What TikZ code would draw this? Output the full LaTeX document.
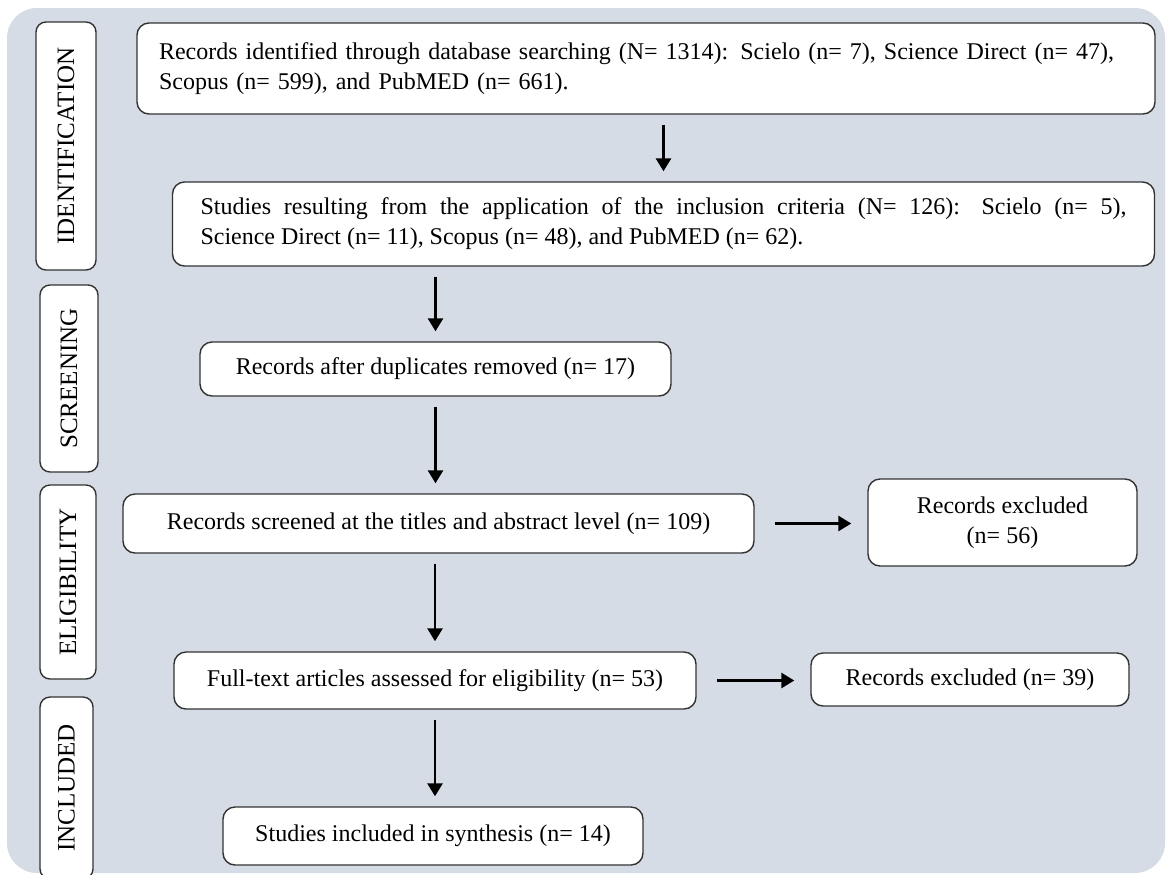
\documentclass[tikz,border=0pt]{standalone}
\usepackage{fontspec}
\setmainfont{Liberation Serif}
\usetikzlibrary{arrows.meta}
\definecolor{panel}{HTML}{D6DCE5}

\begin{document}
\begin{tikzpicture}[x=0.5pt,y=-0.5pt,>={Triangle[length=6.5pt,width=7.5pt]},
	box/.style={draw=black!80, line width=0.7pt, fill=white, rounded corners=6pt, inner sep=0pt, align=center, font=\fontsize{12}{15}\selectfont},
	phase/.style={draw=black!80, line width=0.7pt, fill=white, rounded corners=5pt, inner sep=0pt, rotate=90, font=\fontsize{12.5}{15}\selectfont},
	pile/.style={->, line width=1.4pt, shorten <=5pt, shorten >=5pt},
	side/.style={->, line width=1.4pt, shorten <=10pt, shorten >=8pt}]

	\clip (0,0) rectangle (1168,874);
	\fill[white] (0,0) rectangle (1168,874);
	\fill[panel, rounded corners=15pt] (7,8) rectangle (1165,873);

	% Phases
	\draw (66,146) node[phase, minimum width=124pt, minimum height=30pt] (ident) {IDENTIFICATION};
	\draw (69,378.5) node[phase, minimum width=93.5pt, minimum height=29pt] (screen) {SCREENING};
	\draw (68,582) node[phase, minimum width=97pt, minimum height=28pt] (elig) {ELIGIBILITY};
	\draw (66.5,788) node[phase, minimum width=91pt, minimum height=26.5pt] (incl) {INCLUDED};

	% Boxes
	\draw (646,68.5) node[box, align=left, text width=487pt, inner xsep=11pt, minimum height=45.5pt] (rec)
		{Records identified through database searching (N= 1314): Scielo (n= 7), Science Direct (n= 47),\\
		 Scopus (n= 599), and PubMED (n= 661).};
	\draw (663.5,224) node[box, align=justify, text width=463pt, inner xsep=14pt, minimum height=42pt] (stud)
		{Studies resulting from the application of the inclusion criteria (N= 126): Scielo (n= 5),\linebreak
		 Science Direct (n= 11), Scopus (n= 48), and PubMED (n= 62).};
	\draw (435.5,369) node[box, minimum width=235.5pt, minimum height=27pt] (dup) {Records after duplicates removed (n= 17)};
	\draw (438.5,523.5) node[box, minimum width=315.5pt, minimum height=29.5pt] (scr) {Records screened at the titles and abstract level (n= 109)};
	\draw (1002.5,522.5) node[box, minimum width=134.5pt, minimum height=43.5pt] (exa) {Records excluded\\(n= 56)};
	\draw (435,680.5) node[box, minimum width=261pt, minimum height=28.5pt] (full) {Full-text articles assessed for eligibility (n= 53)};
	\draw (970,679.5) node[box, minimum width=159pt, minimum height=26.5pt] (exb) {Records excluded (n= 39)};
	\draw (433,836) node[box, minimum width=210pt, minimum height=29pt] (syn) {Studies included in synthesis (n= 14)};

	% Arrows
	\draw[pile] (rec.south -| stud.north) -- (stud.north);
	\draw[pile] (stud.south -| dup.north) -- (dup.north);
	\draw[pile] (dup.south) -- (dup.south |- scr.north);
	\draw[pile] (scr.south -| full.north) -- (full.north);
	\draw[pile] (full.south) -- (full.south |- syn.north);
	\draw[side] (scr.east) -- (scr.east -| exa.west);
	\draw[side] (full.east) -- (full.east -| exb.west);

\end{tikzpicture}
\end{document}
